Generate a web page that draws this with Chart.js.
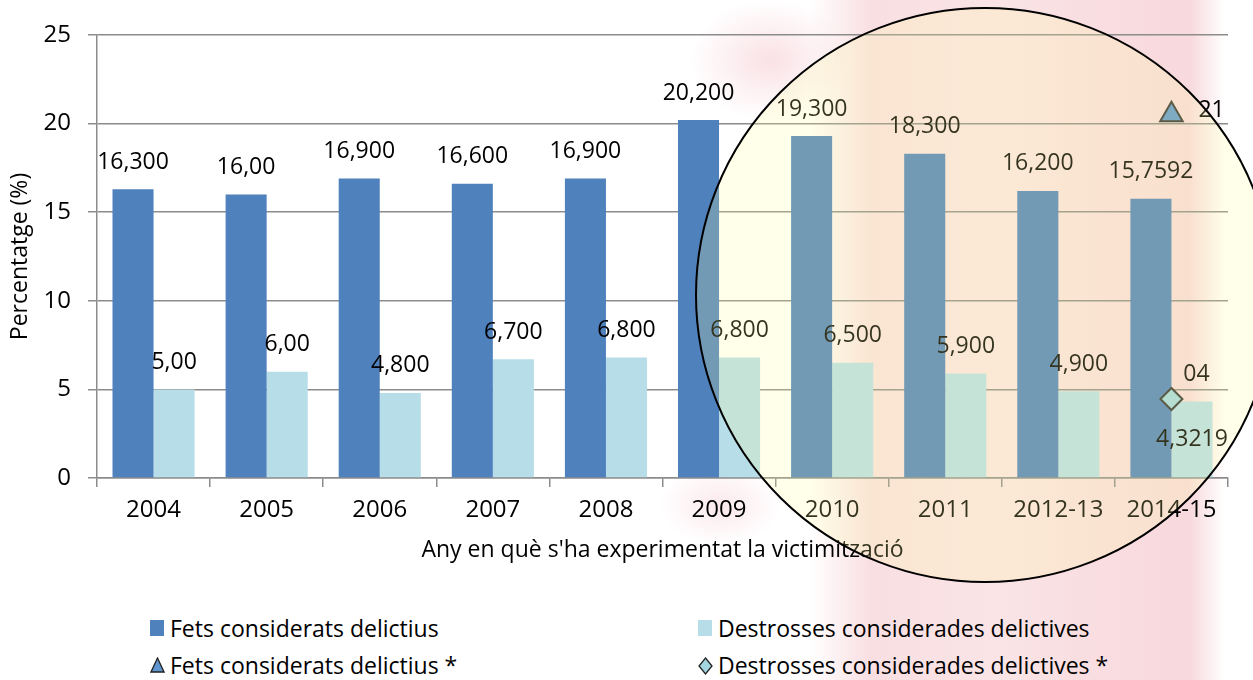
<!DOCTYPE html>
<html>
<head>
<meta charset="utf-8">
<script src="https://cdn.jsdelivr.net/npm/chart.js@4.4.1/dist/chart.umd.min.js"></script>
<style>
  body {
    margin: 0;
    width: 1253px;
    height: 680px;
    overflow: hidden;
    font-family: 'Open Sans', sans-serif;
    background:
      radial-gradient(ellipse 80px 60px at 770px 60px, rgba(246,205,212,0.6), rgba(246,205,212,0) 100%),
      radial-gradient(ellipse 60px 40px at 720px 505px, rgba(246,205,212,0.45), rgba(246,205,212,0) 100%),
      linear-gradient(to right, #ffffff 0, #ffffff 810px, #f9dfe2 870px, #fae4e6 1000px, #f9dde0 1100px, #f8d9dd 1190px, #ffffff 1225px);
  }
  #wrap { position: absolute; left: 0; top: 0; width: 1253px; height: 590px; }
  .leg { position: absolute; font-size: 23px; color: #000; white-space: nowrap; line-height: 26px; }
  .leg svg { position: absolute; left: 0; top: 5px; }
  .leg span { position: absolute; left: 20px; top: 0; }
</style>
</head>
<body>
<div id="wrap"><canvas id="victimChart" width="1253" height="590"></canvas></div>
<div id="legend"></div>
<script>
// data
const years = ['2004', '2005', '2006', '2007', '2008', '2009', '2010', '2011', '2012-13', '2014-15'];
const fets = [16.3, 16.0, 16.9, 16.6, 16.9, 20.2, 19.3, 18.3, 16.2, 15.7592];
const destrosses = [5.0, 6.0, 4.8, 6.7, 6.8, 6.8, 6.5, 5.9, 4.9, 4.3219];
const fetsNou = [null, null, null, null, null, null, null, null, null, 20.5];
const destrossesNou = [null, null, null, null, null, null, null, null, null, 4.46];

// the labels as printed in the picture
const fetsText = ['16,300', '16,00', '16,900', '16,600', '16,900', '20,200', '19,300', '18,300', '16,200', '15,7592'];
const destrossesText = ['5,00', '6,00', '4,800', '6,700', '6,800', '6,800', '6,500', '5,900', '4,900', '4,3219'];
const fetsNouText = '21';
const destrossesNouText = '04';

const yTicks = [0, 5, 10, 15, 20, 25];

const gridGray = '#8c8c8c';
const labelFont = '23px "Open Sans"';

// draws the value labels next to the bars and markers
const valueLabels = {
    id: 'valueLabels',
    afterDatasetsDraw(chart) {
        const ctx = chart.ctx;
        ctx.save();
        ctx.font = labelFont;
        ctx.fillStyle = '#000';
        ctx.textAlign = 'center';
        ctx.textBaseline = 'middle';
        [fetsText, destrossesText].forEach((texts, di) => {
            chart.getDatasetMeta(di).data.forEach((bar, i) => {
                let dy = -27;
                // the last light bar has its label inside, under the diamond
                if (di === 1 && i === texts.length - 1) dy = 38;
                ctx.fillText(texts[i], bar.x, bar.y + dy);
            });
        });
        chart.getDatasetMeta(2).data.forEach((pt, i) => {
            if (fetsNou[i] === null) return;
            ctx.textAlign = 'left';
            ctx.fillText(fetsNouText, pt.x + 27, pt.y - 4);
        });
        chart.getDatasetMeta(3).data.forEach((pt, i) => {
            if (destrossesNou[i] === null) return;
            ctx.textAlign = 'center';
            ctx.fillText(destrossesNouText, pt.x + 25, pt.y - 25);
        });
        ctx.restore();
    }
};

// the highlight circle drawn over the last years
const highlight = {
    id: 'highlight',
    afterDraw(chart) {
        const ctx = chart.ctx;
        ctx.save();
        ctx.beginPath();
        ctx.ellipse(985, 295, 289, 287, 0, 0, Math.PI * 2);
        ctx.fillStyle = 'rgba(255, 255, 150, 0.2)';
        ctx.fill();
        ctx.lineWidth = 2;
        ctx.strokeStyle = '#000';
        ctx.stroke();
        ctx.restore();
    }
};

let ctx = document.getElementById('victimChart').getContext('2d');
let victimChart = new Chart(ctx, {
    type: 'bar',
    data: {
        labels: years,
        datasets: [{
            label: 'Fets considerats delictius',
            data: fets,
            backgroundColor: '#4F81BD',
            order: 2
        }, {
            label: 'Destrosses considerades delictives',
            data: destrosses,
            backgroundColor: '#B7DDE8',
            order: 2
        }, {
            type: 'line',
            label: 'Fets considerats delictius *',
            data: fetsNou,
            showLine: false,
            pointStyle: 'triangle',
            pointRadius: 13,
            backgroundColor: '#5E95CE',
            borderColor: '#333333',
            borderWidth: 2,
            order: 1
        }, {
            type: 'line',
            label: 'Destrosses considerades delictives *',
            data: destrossesNou,
            showLine: false,
            pointStyle: 'rectRot',
            pointRadius: 11,
            backgroundColor: '#A3D6E0',
            borderColor: '#333333',
            borderWidth: 2,
            order: 1
        }]
    },
    options: {
        responsive: false,
        animation: false,
        datasets: {
            bar: { barPercentage: 1, categoryPercentage: 0.726 }
        },
        layout: { padding: { left: 0, top: 35, right: 25, bottom: 0 } },
        plugins: {
            legend: { display: false },
            tooltip: { enabled: false }
        },
        scales: {
            x: {
                afterFit: s => { s.height = 112; },
                grid: { drawOnChartArea: false, color: gridGray, lineWidth: 1.5, tickLength: 9 },
                border: { color: gridGray, width: 1.5 },
                ticks: { color: '#000', font: { family: 'Open Sans', size: 24 }, padding: 9 },
                title: {
                    display: true,
                    text: "Any en què s'ha experimentat la victimització",
                    color: '#000',
                    font: { family: 'Open Sans', size: 23 },
                    padding: { top: 0, bottom: 26 }
                }
            },
            y: {
                min: 0,
                max: 25,
                afterFit: s => { s.width = 97; },
                afterBuildTicks: s => { s.ticks = yTicks.map(v => ({ value: v })); },
                grid: { color: gridGray, lineWidth: 1.5, tickLength: 9 },
                border: { color: gridGray, width: 1.5 },
                ticks: { color: '#000', font: { family: 'Open Sans', size: 24 }, padding: 17 },
                title: {
                    display: true,
                    text: 'Percentatge (%)',
                    color: '#000',
                    font: { family: 'Open Sans', size: 23 },
                    padding: { top: 7, bottom: 0 }
                }
            }
        }
    },
    plugins: [valueLabels, highlight]
});

// legend in two columns, built from the datasets
function marker(ds) {
    if (ds.pointStyle === 'triangle') {
        return '<svg width="15" height="16"><polygon points="7.5,1 14,15 1,15" fill="' + ds.backgroundColor + '" stroke="#222" stroke-width="1.3"/></svg>';
    }
    if (ds.pointStyle === 'rectRot') {
        return '<svg width="15" height="18"><polygon points="7.5,1 14,9 7.5,17 1,9" fill="' + ds.backgroundColor + '" stroke="#222" stroke-width="1.3"/></svg>';
    }
    return '<svg width="14" height="16"><rect x="0" y="0" width="14" height="16" fill="' + ds.backgroundColor + '"/></svg>';
}
const legendPos = [[150, 615], [698, 615], [150, 652], [698, 652]];
let legendHtml = '';
victimChart.data.datasets.forEach((ds, i) => {
    legendHtml += '<div class="leg" style="left:' + legendPos[i][0] + 'px;top:' + legendPos[i][1] + 'px">' +
        marker(ds) + '<span>' + ds.label + '</span></div>';
});
document.getElementById('legend').innerHTML = legendHtml;
</script>
</body>
</html>
